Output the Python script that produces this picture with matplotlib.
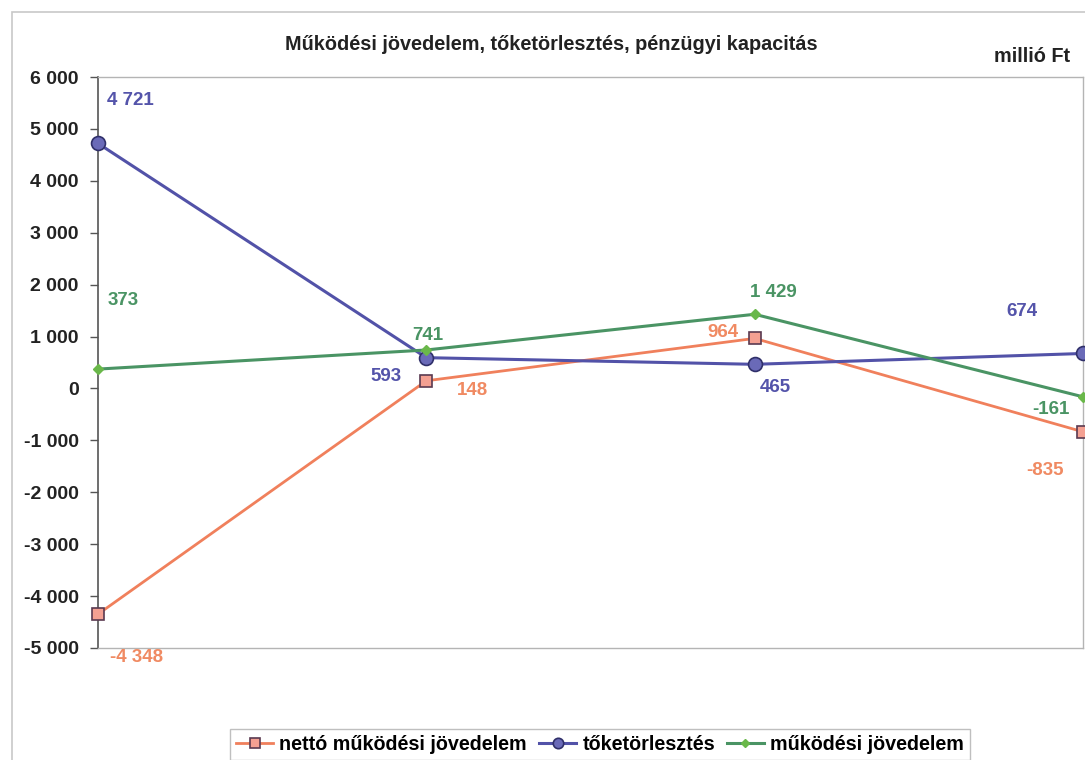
import matplotlib.pyplot as plt
from matplotlib.patches import Rectangle
from matplotlib.ticker import FuncFormatter

plt.rcParams['font.family'] = ['Liberation Sans', 'DejaVu Sans']
plt.rcParams['font.weight'] = 'bold'

periods = [0, 1, 2, 3]
netto = [-4348, 148, 964, -835]
toketorlesztes = [4721, 593, 465, 674]
mukodesi = [373, 741, 1429, -161]
series_names = ['nettó működési jövedelem', 'tőketörlesztés', 'működési jövedelem']
title = 'Működési jövedelem, tőketörlesztés, pénzügyi kapacitás'
unit = 'millió Ft'

# label offsets in pixels for each point
netto_off = [(39, -43), (46, -10), (-32, 6), (-38, -39)]
toke_off = [(32, 43), (-40, -19), (21, -23), (-61, 42)]
muk_off = [(25, 69), (1, 14), (19, 22), (-32, -13)]

fig = plt.figure(figsize=(10.85, 7.6), dpi=100)
fig.patches.append(Rectangle((12 / 1085, -0.01), 1.0, 1 - 12 / 760 + 0.01,
                             transform=fig.transFigure, fill=False,
                             edgecolor='#c8c8c8', linewidth=1.2))
ax = fig.add_axes([98 / 1085, 1 - 648 / 760, (1083 - 98) / 1085, (648 - 77) / 760])

l1, = ax.plot(periods, netto, color='#f0805c', linewidth=2, marker='s',
              markersize=9, markerfacecolor='#f4a092', markeredgecolor='#5a3a50',
              markeredgewidth=1.2, clip_on=False, zorder=3)
l2, = ax.plot(periods, toketorlesztes, color='#5252a8', linewidth=2.2, marker='o',
              markersize=10, markerfacecolor='#6a6ab8', markeredgecolor='#30306a',
              markeredgewidth=1.2, clip_on=False, zorder=3)
l3, = ax.plot(periods, mukodesi, color='#4a9464', linewidth=2.2, marker='D',
              markersize=5, markerfacecolor='#6ab84a', markeredgecolor='#6ab84a',
              clip_on=False, zorder=3)


def fmt(v):
    return f'{v:,}'.replace(',', ' ')


for vals, offs, col in [(netto, netto_off, '#f08a62'),
                        (toketorlesztes, toke_off, '#5454aa'),
                        (mukodesi, muk_off, '#4a9464')]:
    for x, v, off in zip(periods, vals, offs):
        ax.annotate(fmt(v), (x, v), xytext=off, textcoords='offset pixels',
                    ha='center', va='center', color=col, fontsize=13.5,
                    fontweight='bold', annotation_clip=False)

ax.set_xlim(0, 3)
ax.set_ylim(-5000, 6000)
ax.set_yticks(range(-5000, 6001, 1000))
ax.yaxis.set_major_formatter(FuncFormatter(lambda v, p: fmt(int(v))))
ax.set_xticks([])
ax.tick_params(axis='y', direction='out', length=6, width=1, color='#555555',
               labelsize=14, pad=8, labelcolor='#222222')
for lab in ax.get_yticklabels():
    lab.set_fontweight('bold')

ax.spines['left'].set_color('#555555')
ax.spines['left'].set_linewidth(1.2)
for side in ['top', 'right', 'bottom']:
    ax.spines[side].set_color('#b4b4b4')
    ax.spines[side].set_linewidth(1.0)

fig.text(551 / 1085, 1 - 45 / 760, title, ha='center', va='center',
         fontsize=14.3, fontweight='bold', color='#222222')
fig.text(1070 / 1085, 1 - 56 / 760, unit, ha='right', va='center',
         fontsize=14.3, fontweight='bold', color='#222222')

leg = fig.legend([l1, l2, l3], series_names, loc='upper center',
                 bbox_to_anchor=(600 / 1085, 1 - 729 / 760), ncol=3,
                 frameon=True, fancybox=False, edgecolor='#b0b0b0',
                 handlelength=1.9, handletextpad=0.3, borderaxespad=0,
                 columnspacing=0.6, borderpad=0.3, markerscale=0.75,
                 prop={'weight': 'bold', 'size': 14.2})
leg.get_frame().set_linewidth(1.0)

fig.savefig('out.png', dpi=100)
